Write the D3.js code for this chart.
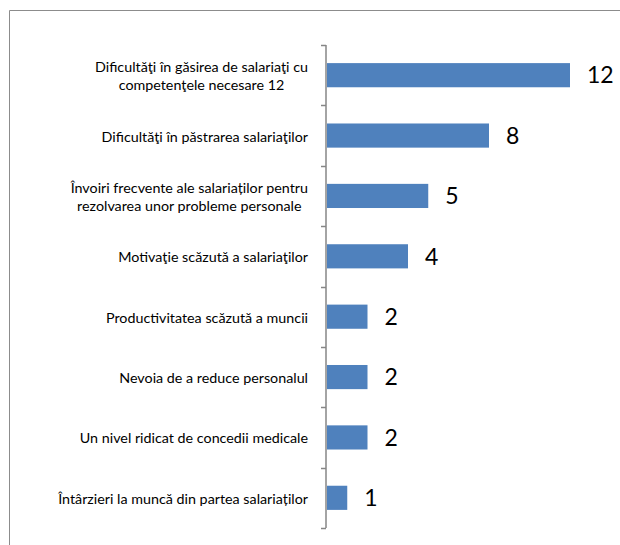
<!DOCTYPE html>
<html>
<head>
<meta charset="utf-8">
<script src="https://cdnjs.cloudflare.com/ajax/libs/d3/7.8.5/d3.min.js"></script>
<style>
  body { margin: 0; background: #fff; }
  svg text { font-family: Lato, "Open Sans", sans-serif; }
</style>
</head>
<body>
<div id="chart"></div>
<script>
// Data
var categories = [
  "Dificultăţi în găsirea de salariaţi cu\ncompetenţele necesare 12",
  "Dificultăţi în păstrarea salariaţilor",
  "Învoiri frecvente ale salariaților pentru\nrezolvarea unor probleme personale",
  "Motivaţie scăzută a salariaţilor",
  "Productivitatea scăzută a muncii",
  "Nevoia de a reduce personalul",
  "Un nivel ridicat de concedii medicale",
  "Întârzieri la muncă din partea salariaților"
];
var values = [12, 8, 5, 4, 2, 2, 2, 1];

var width = 620, height = 545;

var svg = d3.select("#chart").append("svg")
  .attr("width", width)
  .attr("height", height);

// Chart frame (cut off at right and bottom)
svg.append("path")
  .attr("d", "M9.5," + height + "V10.5H" + width)
  .attr("fill", "none")
  .attr("stroke", "#8c8c8c")
  .attr("stroke-width", 1);

// Scales
var y = d3.scaleBand()
  .domain(categories)
  .range([45, 528])
  .paddingInner(0.6)
  .paddingOuter(0.3);

var x = d3.scaleLinear()
  .domain([0, 12])
  .range([327, 570]);

// Axis with ticks between categories
var axisX = 326;
var step = y.step();
var tickYs = d3.range(categories.length + 1).map(function(i) { return 45 + i * step; });

svg.append("line")
  .attr("x1", axisX).attr("x2", axisX)
  .attr("y1", 45).attr("y2", 528)
  .attr("stroke", "#868686")
  .attr("stroke-width", 1.5);

svg.selectAll(".tick")
  .data(tickYs)
  .enter().append("line")
  .attr("class", "tick")
  .attr("x1", axisX - 5).attr("x2", axisX)
  .attr("y1", function(d) { return Math.round(d) + 0.5; })
  .attr("y2", function(d) { return Math.round(d) + 0.5; })
  .attr("stroke", "#868686")
  .attr("stroke-width", 1.5);

// Bars
svg.selectAll(".bar")
  .data(values)
  .enter().append("rect")
  .attr("class", "bar")
  .attr("x", x(0))
  .attr("y", function(d, i) { return y(categories[i]); })
  .attr("width", function(d) { return x(d) - x(0); })
  .attr("height", y.bandwidth())
  .attr("fill", "#4f81bd");

// Value labels
svg.selectAll(".val")
  .data(values)
  .enter().append("text")
  .attr("class", "val")
  .attr("x", function(d) { return x(d) + 17; })
  .attr("y", function(d, i) { return y(categories[i]) + y.bandwidth() / 2; })
  .attr("dy", "0.36em")
  .attr("font-size", 23)
  .attr("fill", "#000")
  .text(function(d) { return d; });

// Category labels: block right-aligned at x=308, lines centered within the block
var labelRight = 308, lh = 18;
categories.forEach(function(d) {
  var lines = d.split("\n");
  var cy = y(d) + y.bandwidth() / 2 + 1;
  var g = svg.append("g").attr("class", "cat");
  var texts = lines.map(function(line, j) {
    return g.append("text")
      .attr("y", cy + (j - (lines.length - 1) / 2) * lh)
      .attr("dy", "0.35em")
      .attr("font-size", 14.3)
      .attr("text-anchor", "middle")
      .attr("fill", "#000")
      .text(line);
  });
  var maxW = d3.max(texts, function(t) { return t.node().getComputedTextLength(); });
  texts.forEach(function(t) { t.attr("x", labelRight - maxW / 2); });
});
</script>
</body>
</html>
